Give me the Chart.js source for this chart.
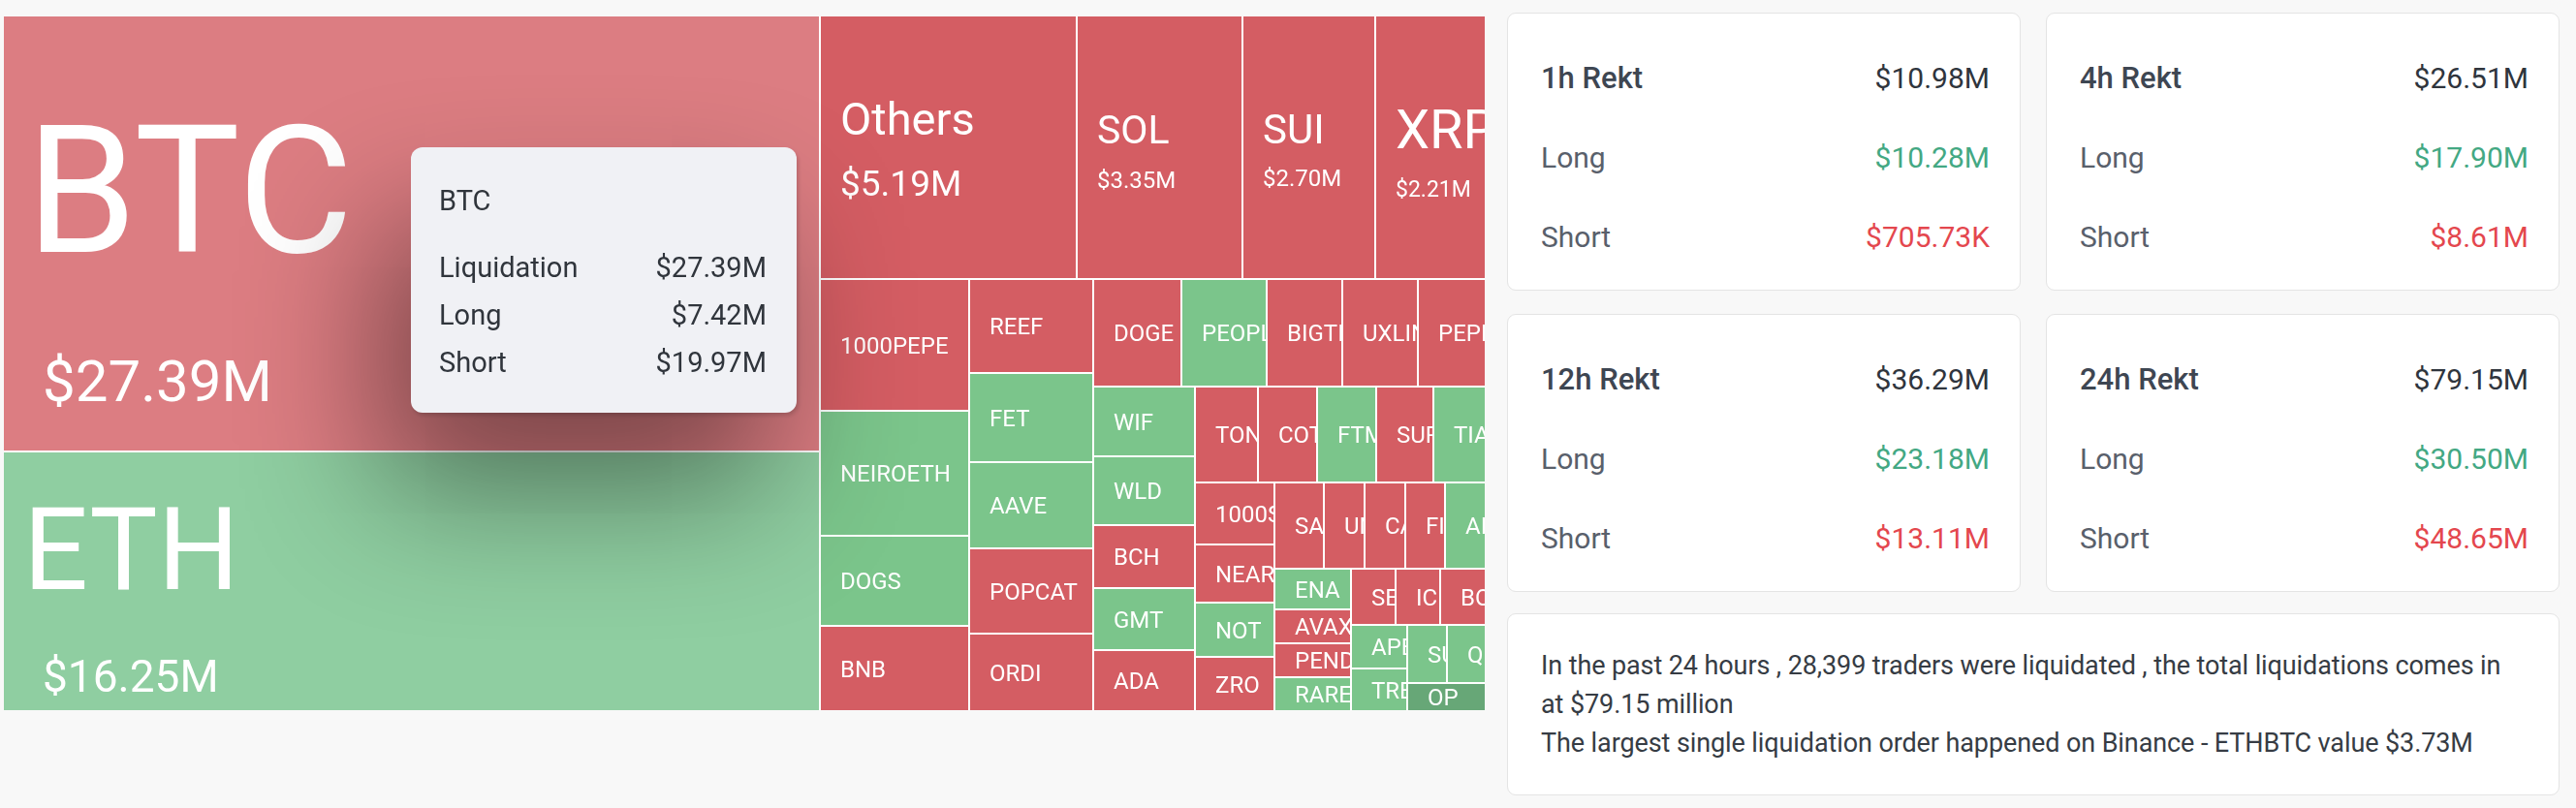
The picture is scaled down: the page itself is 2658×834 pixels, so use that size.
<!DOCTYPE html>
<html lang="en">
<head>
    <meta charset="UTF-8">
    <title>Liquidation Map</title>
    <script src="https://cdn.jsdelivr.net/npm/chart.js"></script>
    <style>
        * {
            box-sizing: border-box;
        }
        body {
            margin: 0;
            width: 2658px;
            height: 834px;
            overflow: hidden;
            position: relative;
            background: #f8f8f8;
            font-family: Roboto, Arial, sans-serif;
        }

        .map {
            position: absolute;
            left: 4px;
            top: 17px;
            width: 1528px;
            height: 716px;
        }

        .tip {
            position: absolute;
            display: none;
            width: 398px;
            height: 274px;
            padding: 40px 31px 0 29px;
            background: #f0f1f5;
            border-radius: 12px;
            box-shadow: 2px 3px 4px rgba(0, 0, 0, 0.15), -30px 80px 140px rgba(0, 0, 0, 0.45);
            color: #30353c;
            font-size: 29px;
            pointer-events: none;
        }
        .tip .head {
            line-height: 30px;
            margin-bottom: 30px;
        }
        .tip .row {
            display: flex;
            justify-content: space-between;
            line-height: 49px;
        }

        .side {
            position: absolute;
            left: 1555px;
            top: 13px;
            width: 1086px;
        }
        .grid {
            display: grid;
            grid-template-columns: 530px 530px;
            column-gap: 26px;
            row-gap: 24px;
        }
        .card {
            background: #fff;
            border: 1px solid #e4e4e4;
            border-radius: 9px;
            height: 287px;
            padding: 26px 31px 0 34px;
        }
        .card .row {
            display: flex;
            justify-content: space-between;
            line-height: 82px;
            font-size: 30px;
            color: #59606b;
        }
        .card .row.head {
            font-weight: 500;
            color: #3e4652;
        }
        .card .row.head span:first-child {
            font-size: 31px;
        }
        .card .row.head span:last-child {
            color: #2f353d;
            font-weight: 400;
        }
        .up { color: #43a883; }
        .down { color: #e4474e; }

        .summary {
            margin-top: 22px;
            height: 188px;
            background: #fff;
            border: 1px solid #e4e4e4;
            border-radius: 9px;
            padding: 0 34px;
            display: flex;
            align-items: center;
            font-size: 27px;
            letter-spacing: -0.1px;
            line-height: 40px;
            color: #363c44;
            white-space: nowrap;
        }
    </style>
</head>
<body>
<div class="map">
    <canvas id="rektMap"></canvas>
    <div id="tip" class="tip"></div>
</div>
<div class="side">
    <div class="grid" id="cards"></div>
    <div class="summary" id="summary"></div>
</div>

<script>
    // 24h liquidations per coin ($M), sorted largest first
    const coins = ['BTC', 'ETH', 'Others', 'SOL', 'SUI', 'XRP',
        '1000PEPE', 'NEIROETH', 'DOGS', 'BNB',
        'REEF', 'FET', 'AAVE', 'POPCAT', 'ORDI',
        'DOGE', 'PEOPLE', 'BIGTIME', 'UXLINK', 'PEPE',
        'WIF', 'WLD', 'BCH', 'GMT', 'ADA',
        'TON', 'COTI', 'FTM', 'SUPER', 'TIA',
        '1000SATS', 'NEAR', 'NOT', 'ZRO',
        'SAGA', 'UNI', 'CATI', 'FIL', 'AI',
        'ENA', 'AVAX', 'PENDLE', 'RARE',
        'SEI', 'ICP', 'BOME', 'APE', 'TRB', 'SUSHI', 'QNT', 'OP'];
    const liquidations = [27.39, 16.25, 5.19, 3.35, 2.70, 2.21,
        1.525, 1.435, 1.039, 0.972,
        0.898, 0.852, 0.824, 0.815, 0.735,
        0.730, 0.713, 0.632, 0.632, 0.554,
        0.539, 0.539, 0.495, 0.490, 0.467,
        0.467, 0.438, 0.436, 0.422, 0.378,
        0.377, 0.355, 0.335, 0.326,
        0.325, 0.269, 0.268, 0.265, 0.260,
        0.240, 0.203, 0.198, 0.197,
        0.196, 0.195, 0.193, 0.186, 0.182, 0.178, 0.168, 0.160];
    // which side got liquidated the most: L = longs, S = shorts
    const dominant = ['S', 'L', 'S', 'S', 'S', 'S',
        'S', 'L', 'L', 'S',
        'S', 'L', 'L', 'S', 'S',
        'S', 'L', 'S', 'S', 'S',
        'L', 'L', 'S', 'L', 'S',
        'S', 'S', 'L', 'S', 'L',
        'S', 'S', 'L', 'S',
        'S', 'S', 'S', 'S', 'L',
        'L', 'S', 'S', 'L',
        'S', 'S', 'S', 'L', 'L', 'L', 'L', 'L'];

    const tipCoin = 'BTC';
    const tipLong = 7.42;
    const tipShort = 19.97;

    const periods = ['1h Rekt', '4h Rekt', '12h Rekt', '24h Rekt'];
    const rektTotal = [10.98, 26.51, 36.29, 79.15];
    const rektLong = [10.28, 17.90, 23.18, 30.50];
    const rektShort = [0.70573, 8.61, 13.11, 48.65];

    const tradersLiquidated = '28,399';
    const largestOrder = 'Binance - ETHBTC value $3.73M';

    const RED = '#d45d63';
    const GREEN = '#7bc58b';
    const fillOverride = { BTC: '#dc7d82', ETH: '#8fcea1', OP: '#67a777' };

    // big tiles get their own typography (name size, value size, offsets from the tile centre)
    const bigLabels = {
        BTC: { name: 183, value: 60, nameDx: 3, nameDy: -46, valueDy: 152, valueDx: 20 },
        ETH: { name: 118, value: 46, nameDy: -34, valueDy: 98, valueDx: 20 },
        Others: { name: 47, value: 37, nameDy: -30, valueDy: 37 },
        SOL: { name: 41, value: 24, nameDy: -19, valueDy: 33 },
        SUI: { name: 42, value: 24, nameDy: -19, valueDy: 31 },
        XRP: { name: 56, value: 23, nameDy: -19, valueDy: 43 }
    };

    function money(v) {
        return v >= 1 ? '$' + v.toFixed(2) + 'M' : '$' + (v * 1000).toFixed(2) + 'K';
    }

    // squarified layout (golden ratio), same rules as d3.treemapSquarify
    function squarify(values, x0, y0, x1, y1) {
        const ratio = (1 + Math.sqrt(5)) / 2;
        const out = [];
        const n = values.length;
        let value = values.reduce((a, b) => a + b, 0);
        let i0 = 0, i1 = 0;
        while (i0 < n) {
            const dx = x1 - x0, dy = y1 - y0;
            let sum = values[i1++];
            let minV = sum, maxV = sum;
            const alpha = Math.max(dy / dx, dx / dy) / (value * ratio);
            let beta = sum * sum * alpha;
            let minRatio = Math.max(maxV / beta, beta / minV);
            for (; i1 < n; ++i1) {
                const v = values[i1];
                sum += v;
                if (v < minV) minV = v;
                if (v > maxV) maxV = v;
                beta = sum * sum * alpha;
                const r = Math.max(maxV / beta, beta / minV);
                if (r > minRatio) { sum -= v; break; }
                minRatio = r;
            }
            if (dx < dy) {
                const yb = i1 < n ? y0 + dy * sum / value : y1;
                let x = x0;
                for (let i = i0; i < i1; i++) {
                    const nx = i === i1 - 1 ? x1 : x + dx * values[i] / sum;
                    out[i] = { x0: x, y0: y0, x1: nx, y1: yb };
                    x = nx;
                }
                y0 = yb;
            } else {
                const xb = i1 < n ? x0 + dx * sum / value : x1;
                let y = y0;
                for (let i = i0; i < i1; i++) {
                    const ny = i === i1 - 1 ? y1 : y + dy * values[i] / sum;
                    out[i] = { x0: x0, y0: y, x1: xb, y1: ny };
                    y = ny;
                }
                x0 = xb;
            }
            value -= sum;
            i0 = i1;
        }
        return out;
    }

    const box = document.querySelector('.map');
    const aspect = box.clientWidth / box.clientHeight;
    // layout in unit space, x stretched by the box aspect so tiles come out square-ish
    const tiles = squarify(liquidations, 0, 0, aspect, 1).map(r => ({
        x0: r.x0 / aspect, x1: r.x1 / aspect, y0: r.y0, y1: r.y1
    }));

    function tileRect(chart, i) {
        const xs = chart.scales.x, ys = chart.scales.y;
        const r = tiles[i];
        const g = 1;
        let left = Math.round(xs.getPixelForValue(r.x0));
        let right = Math.round(xs.getPixelForValue(r.x1));
        let top = Math.round(ys.getPixelForValue(r.y0));
        let bottom = Math.round(ys.getPixelForValue(r.y1));
        if (r.x0 > 1e-6) left += g;
        if (r.x1 < 1 - 1e-6) right -= g;
        if (r.y0 > 1e-6) top += g;
        if (r.y1 < 1 - 1e-6) bottom -= g;
        return { left, top, w: right - left, h: bottom - top };
    }

    const treemapPlugin = {
        id: 'treemapTiles',
        beforeDatasetsDraw(chart) {
            const ctx = chart.ctx;
            const a = chart.chartArea;
            ctx.save();
            ctx.fillStyle = '#ffffff';
            ctx.fillRect(a.left, a.top, a.right - a.left, a.bottom - a.top);
            coins.forEach((c, i) => {
                const t = tileRect(chart, i);
                ctx.fillStyle = fillOverride[c] || (dominant[i] === 'L' ? GREEN : RED);
                ctx.fillRect(t.left, t.top, t.w, t.h);
            });
            ctx.restore();
        },
        afterDatasetsDraw(chart) {
            const ctx = chart.ctx;
            coins.forEach((c, i) => {
                const t = tileRect(chart, i);
                const cy = t.top + t.h / 2;
                const tx = t.left + 20;
                ctx.save();
                ctx.beginPath();
                ctx.rect(t.left, t.top, t.w, t.h);
                ctx.clip();
                ctx.fillStyle = '#ffffff';
                ctx.textBaseline = 'alphabetic';
                ctx.textAlign = 'left';
                const big = bigLabels[c];
                if (big) {
                    ctx.font = big.name + 'px Roboto';
                    ctx.fillText(c, tx + (big.nameDx || 0), cy + big.nameDy + big.name * 0.711 / 2);
                    ctx.font = big.value + 'px Roboto';
                    ctx.fillText(money(liquidations[i]), tx + (big.valueDx || 0), cy + big.valueDy + big.value * 0.711 / 2);
                } else {
                    ctx.font = '24px Roboto';
                    ctx.fillText(c, tx, cy + 24 * 0.711 / 2);
                }
                ctx.restore();
            });
        }
    };

    function renderTip(context) {
        const tip = document.getElementById('tip');
        const t = context.tooltip;
        if (!t.dataPoints || !t.dataPoints.length) {
            tip.style.display = 'none';
            return;
        }
        const i = t.dataPoints[0].dataIndex;
        tip.innerHTML =
            '<div class="head">' + coins[i] + '</div>' +
            '<div class="row"><span>Liquidation</span><span>' + money(liquidations[i]) + '</span></div>' +
            '<div class="row"><span>Long</span><span>' + money(tipLong) + '</span></div>' +
            '<div class="row"><span>Short</span><span>' + money(tipShort) + '</span></div>';
        tip.style.left = (t.caretX - 1) + 'px';
        tip.style.top = (t.caretY - 90) + 'px';
        tip.style.display = 'block';
    }

    const chart = new Chart(document.getElementById('rektMap'), {
        type: 'scatter',
        data: {
            datasets: [{
                label: 'Liquidations',
                data: tiles.map(r => ({ x: (r.x0 + r.x1) / 2, y: (r.y0 + r.y1) / 2 })),
                pointRadius: 0,
                pointHoverRadius: 0
            }]
        },
        options: {
            responsive: true,
            maintainAspectRatio: false,
            animation: false,
            events: [],
            layout: { padding: 0 },
            scales: {
                x: { type: 'linear', min: 0, max: 1, display: false },
                y: { type: 'linear', min: 0, max: 1, reverse: true, display: false }
            },
            plugins: {
                legend: { display: false },
                tooltip: { enabled: false, external: renderTip }
            }
        },
        plugins: [treemapPlugin]
    });

    chart.tooltip.setActiveElements([{ datasetIndex: 0, index: coins.indexOf(tipCoin) }], { x: 0, y: 0 });

    // side cards
    const cards = document.getElementById('cards');
    periods.forEach((p, i) => {
        const card = document.createElement('div');
        card.className = 'card';
        card.innerHTML =
            '<div class="row head"><span>' + p + '</span><span>' + money(rektTotal[i]) + '</span></div>' +
            '<div class="row"><span>Long</span><span class="up">' + money(rektLong[i]) + '</span></div>' +
            '<div class="row"><span>Short</span><span class="down">' + money(rektShort[i]) + '</span></div>';
        cards.appendChild(card);
    });

    document.getElementById('summary').innerHTML =
        '<div>In the past 24 hours , ' + tradersLiquidated + ' traders were liquidated , the total liquidations comes in<br>' +
        'at ' + money(rektTotal[3]).replace('M', '') + ' million<br>' +
        'The largest single liquidation order happened on ' + largestOrder + '</div>';
</script>
</body>
</html>
